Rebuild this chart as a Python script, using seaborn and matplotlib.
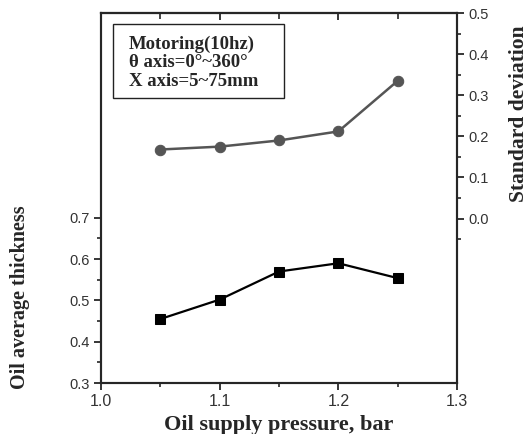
import matplotlib
matplotlib.use('Agg')
import matplotlib.pyplot as plt
import seaborn as sns
import pandas as pd
from matplotlib.patches import Rectangle

# 数据
pressure = [1.05, 1.10, 1.15, 1.20, 1.25]
avg_thickness = [0.455, 0.502, 0.570, 0.590, 0.554]
std_dev = [0.168, 0.175, 0.190, 0.212, 0.335]

x_ticks = [1.0, 1.1, 1.2, 1.3]
x_minor = [1.05, 1.15, 1.25]
left_ticks = [0.3, 0.4, 0.5, 0.6, 0.7]
left_minor = [0.35, 0.45, 0.55, 0.65]
right_ticks = [0.0, 0.1, 0.2, 0.3, 0.4, 0.5]
right_minor = [-0.05, 0.05, 0.15, 0.25, 0.35, 0.45]

note_lines = ['Motoring(10hz)', 'θ axis=0°~360°', 'X axis=5~75mm']

sns.set_style('ticks')
plt.rcParams['font.family'] = ['Liberation Sans', 'DejaVu Sans']
plt.rcParams['axes.linewidth'] = 1.5

df = pd.DataFrame({'pressure': pressure, 'thickness': avg_thickness, 'std': std_dev})

fig = plt.figure(figsize=(5.32, 4.34), dpi=100)
ax = fig.add_axes([0.190, 0.1175, 0.669, 0.8525])
ax2 = ax.twinx()

sns.lineplot(data=df, x='pressure', y='thickness', ax=ax, color='black',
             linewidth=1.6, marker='s', markersize=6.5,
             markeredgecolor='black', markerfacecolor='black')
sns.lineplot(data=df, x='pressure', y='std', ax=ax2, color='#555555',
             linewidth=1.8, marker='o', markersize=7.5,
             markeredgecolor='#555555', markerfacecolor='#555555')

ax.set_xlim(1.0, 1.3)
ax.set_ylim(0.3, 1.196)
ax2.set_ylim(-0.40, 0.50)

ax.set_xticks(x_ticks)
ax.set_xticks(x_minor, minor=True)
ax.set_yticks(left_ticks)
ax.set_yticks(left_minor, minor=True)
ax2.set_yticks(right_ticks)
ax2.set_yticks(right_minor, minor=True)
ax.set_xticklabels([f'{v:.1f}' for v in x_ticks])
ax.set_yticklabels([f'{v:.1f}' for v in left_ticks])
ax2.set_yticklabels([f'{v:.1f}' for v in right_ticks])

ax.tick_params(axis='x', which='major', direction='out', length=5, width=1.3,
               labelsize=11.5, labelcolor='#333333', pad=3)
ax.tick_params(axis='y', which='major', direction='out', length=5, width=1.3,
               labelsize=10.5, labelcolor='#333333')
ax.tick_params(axis='both', which='minor', direction='out', length=3, width=1.2)
ax2.tick_params(axis='y', which='major', direction='out', length=5, width=1.3,
                labelsize=10.5, labelcolor='#333333')
ax2.tick_params(axis='y', which='minor', direction='out', length=3, width=1.2)

# 顶部的向内刻度
top = ax.secondary_xaxis('top')
top.set_xticks(x_ticks)
top.set_xticks(x_minor, minor=True)
top.tick_params(which='major', direction='in', length=5, width=1.3, labeltop=False)
top.tick_params(which='minor', direction='in', length=4, width=1.2)

for a in (ax, ax2):
    for s in a.spines.values():
        s.set_linewidth(1.5)
        s.set_visible(True)

ax.set_xlabel('Oil supply pressure, bar', family='Liberation Serif',
              fontweight='bold', fontsize=16, labelpad=4)
ax.set_ylabel('')
ax2.set_ylabel('')

fig.text(0.038, 0.316, 'Oil average thickness', rotation=90, ha='center', va='center',
         family='Liberation Serif', fontweight='bold', fontsize=14.5)
fig.text(0.976, 0.737, 'Standard deviation', rotation=90, ha='center', va='center',
         family='Liberation Serif', fontweight='bold', fontsize=15.5)

# 说明框
ax.add_patch(Rectangle((0.034, 0.770), 0.480, 0.200, transform=ax.transAxes,
                       fill=False, edgecolor='#222222', linewidth=1.0, zorder=5))
for txt, yy in zip(note_lines, [0.914, 0.865, 0.814]):
    ax.text(0.079, yy, txt, transform=ax.transAxes, ha='left', va='center',
            family='Liberation Serif', fontweight='bold', fontsize=13.5)

fig.savefig('out.png', dpi=100)
